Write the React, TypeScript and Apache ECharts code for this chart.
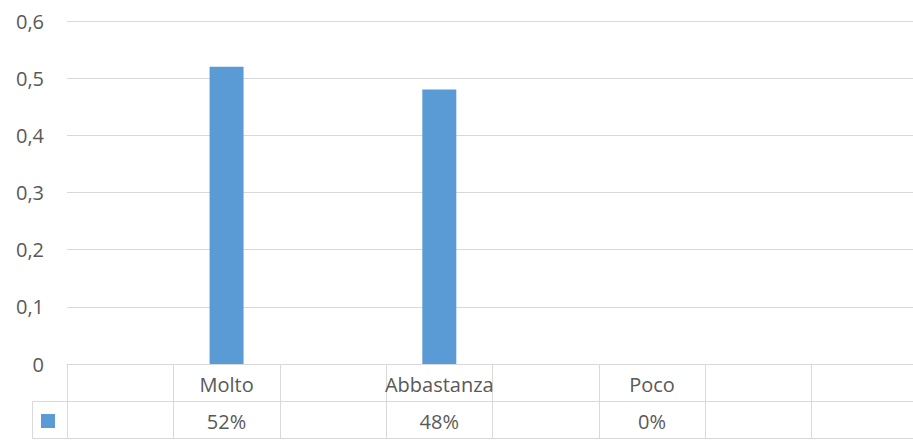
import React, { useEffect, useRef } from "react";
import * as echarts from "echarts";

const categories: string[] = ["", "Molto", "", "Abbastanza", "", "Poco", "", ""];
const values: (number | null)[] = [null, 0.52, null, 0.48, null, 0, null, null];
const seriesName = "Serie1";
const yMin = 0;
const yMax = 0.6;
const yStep = 0.1;

const pctLabels = values.map((v) => (v == null ? "" : Math.round(v * 100) + "%"));

const TEXT = "#595959";
const LINE = "#d9d9d9";
const FONT = "'Open Sans', 'Noto Sans', sans-serif";

export default function App() {
  const ref = useRef<HTMLDivElement>(null);
  useEffect(() => {
    if (!ref.current) return;
    const chart = echarts.init(ref.current, undefined, { renderer: "svg" });
    const labelStyle = { color: TEXT, fontSize: 20, fontFamily: FONT };
    chart.setOption({
      animation: false,
      backgroundColor: "#ffffff",
      grid: { left: 67, right: -5, top: 21, bottom: 76, outerBoundsMode: "none", containLabel: false },
      legend: {
        left: 41,
        top: 414,
        padding: 0,
        icon: "rect",
        itemWidth: 14,
        itemHeight: 14,
        formatter: () => "",
        data: [seriesName],
        selectedMode: false,
      },
      xAxis: [
        {
          type: "category",
          data: categories,
          position: "bottom",
          axisLine: { show: true, lineStyle: { color: LINE, width: 1 } },
          axisTick: { show: true, length: 74, interval: 0, lineStyle: { color: LINE, width: 1 } },
          axisLabel: { ...labelStyle, interval: 0, margin: 10, hideOverlap: false },
          splitLine: { show: false },
        },
        {
          type: "category",
          data: pctLabels,
          position: "bottom",
          offset: 37,
          axisLine: { show: true, lineStyle: { color: LINE, width: 1 } },
          axisTick: { show: false },
          axisLabel: { ...labelStyle, interval: 0, margin: 10 },
        },
        {
          type: "category",
          data: categories,
          position: "bottom",
          offset: 74,
          axisLine: { show: true, lineStyle: { color: LINE, width: 1 } },
          axisTick: { show: false },
          axisLabel: { show: false },
        },
      ],
      yAxis: {
        type: "value",
        min: yMin,
        max: yMax,
        interval: yStep,
        axisLine: { show: false },
        axisTick: { show: false },
        splitLine: { show: true, lineStyle: { color: LINE, width: 1 } },
        axisLabel: {
          ...labelStyle,
          margin: 23,
          formatter: (v: number) => (v === 0 ? "0" : v.toFixed(1).replace(".", ",")),
        },
      },
      graphic: [
        {
          type: "polyline",
          silent: true,
          shape: { points: [[67, 401.5], [32.5, 401.5], [32.5, 438.5], [67, 438.5]] },
          style: { stroke: LINE, lineWidth: 1, fill: "none" },
        },
      ],
      series: [
        {
          name: seriesName,
          type: "bar",
          xAxisIndex: 0,
          data: values,
          barWidth: 34,
          itemStyle: { color: "#5b9bd5" },
        },
      ],
    });
    return () => chart.dispose();
  }, []);
  return (
    <div
      ref={ref}
      style={{ position: "fixed", left: 0, top: 0, width: 913, height: 440, background: "#fff" }}
    />
  );
}
